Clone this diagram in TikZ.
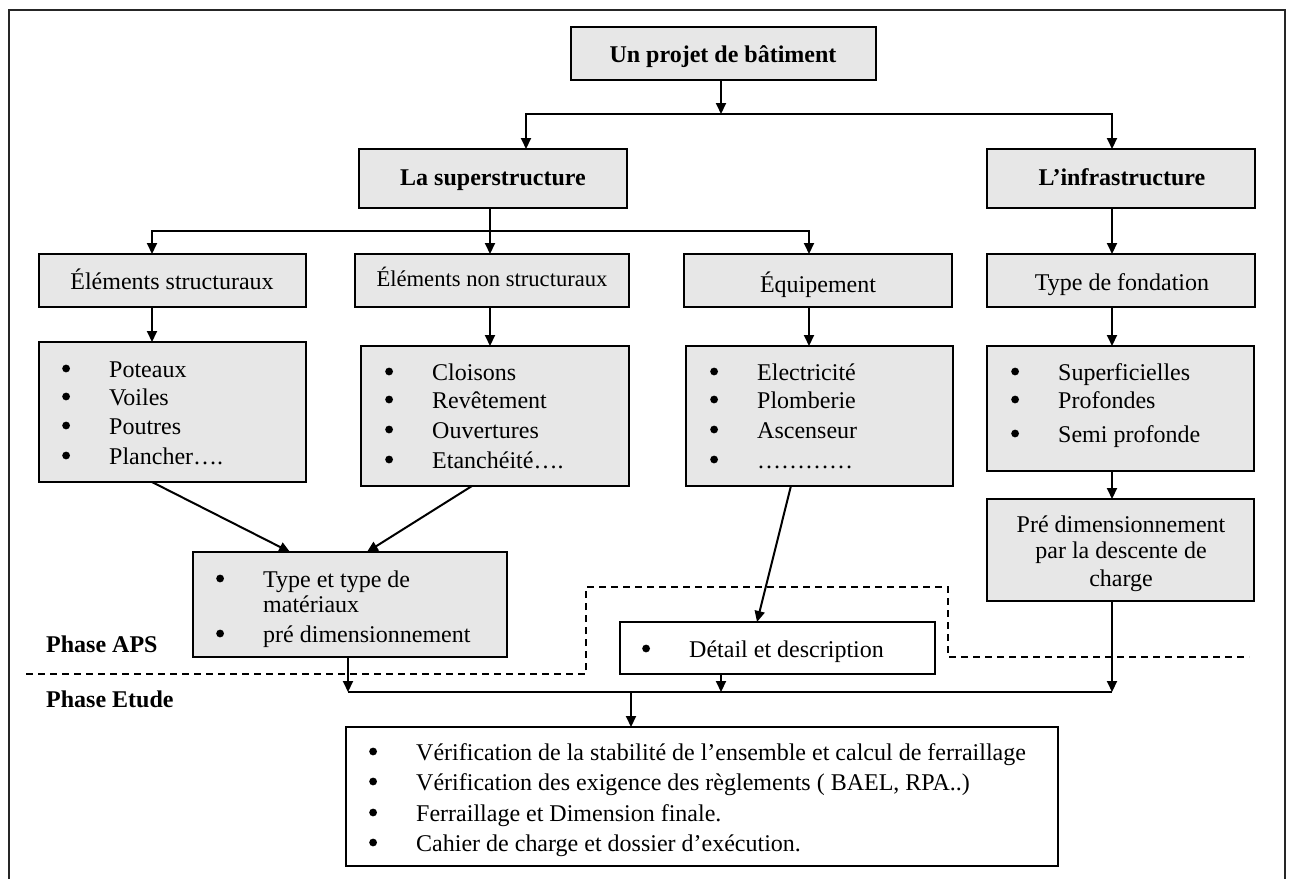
\documentclass[tikz,border=0pt]{standalone}
\usepackage{fontspec}
\setmainfont{Liberation Serif}
\usetikzlibrary{arrows.meta,fit,calc}
\definecolor{boxgray}{HTML}{E7E7E7}
% list bullet: a filled dot followed by a fixed indent
\newcommand{\blt}{\makebox[47pt][l]{\tikz[baseline=0pt,x=1pt,y=1pt]\fill[black] (4,8.5) circle (3.9);}}

\begin{document}
\begin{tikzpicture}[x=1pt,y=-1pt,
  ln/.style={line width=2pt, draw=black, line join=miter},
  arr/.style={ln, -{Triangle[length=11pt,width=10pt]}},
  dline/.style={line width=1.8pt, draw=black, dash pattern=on 7pt off 5pt},
  frame/.style={line width=2pt, draw=black!85},
  box/.style={draw=black, line width=2pt, fill=boxgray, inner sep=0pt, outer sep=0pt, rectangle},
  wbox/.style={box, fill=white},
  lbl/.style={inner sep=0pt, font=\fontsize{24}{30}\selectfont},
  blbl/.style={inner sep=0pt, font=\fontsize{24}{30}\selectfont\bfseries},
  ttl/.style={lbl, anchor=base},
  bttl/.style={blbl, anchor=base},
  item/.style={lbl, anchor=base west}
]
\useasboundingbox (0,0) rectangle (1290,878);

% outer frame (open at the bottom edge of the page)
\draw[frame] (9,890) -- (9,10) -- (1285,10) -- (1285,890);

% ---------- boxes ----------
\node[box, fit={(571,27) (876,80)}]   (A) {};
\node[box, fit={(359,149) (627,208)}] (B) {};
\node[box, fit={(987,149) (1255,208)}] (C) {};
\node[box, fit={(39,254) (306,307)}]  (D) {};
\node[box, fit={(355,254) (629,307)}] (E) {};
\node[box, fit={(684,254) (952,307)}] (F) {};
\node[box, fit={(987,254) (1255,307)}] (G) {};
\node[box, fit={(39,342) (306,482)}]  (H) {};
\node[box, fit={(361,346) (629,486)}] (I) {};
\node[box, fit={(686,346) (953,486)}] (J) {};
\node[box, fit={(987,346) (1254,471)}] (K) {};
\node[box, fit={(987,499) (1254,601)}] (L) {};
\node[box, fit={(193,552) (507,657)}] (M) {};
\node[wbox, fit={(620,622) (935,674)}] (N) {};
\node[wbox, fit={(346,727) (1058,866)}] (O) {};

% ---------- titles ----------
\node[bttl] (tA) at (723,62)  {Un projet de bâtiment};
\node[bttl] (tB) at (493,185) {La superstructure};
\node[bttl] (tC) at (1122,185) {L’infrastructure};
\node[ttl]  (tD) at (172,289) {Éléments structuraux};
\node[ttl, font=\fontsize{22.6}{30}\selectfont] (tE) at (492,286) {Éléments non structuraux};
\node[ttl]  (tF) at (818,292) {Équipement};
\node[ttl]  (tG) at (1122,290) {Type de fondation};

% ---------- lists ----------
\node[item] (h1) at (62,377) {\blt Poteaux};
\node[item] (h2) at (62,405) {\blt Voiles};
\node[item] (h3) at (62,434) {\blt Poutres};
\node[item] (h4) at (62,464) {\blt Plancher….};

\node[item] (i1) at (385,380) {\blt Cloisons};
\node[item] (i2) at (385,408) {\blt Revêtement};
\node[item] (i3) at (385,438) {\blt Ouvertures};
\node[item] (i4) at (385,468) {\blt Etanchéité….};

\node[item] (j1) at (710,380) {\blt Electricité};
\node[item] (j2) at (710,408) {\blt Plomberie};
\node[item] (j3) at (710,438) {\blt Ascenseur};
\node[item] (j4) at (710,468) {\blt …………};

\node[item] (k1) at (1011,380) {\blt Superficielles};
\node[item] (k2) at (1011,408) {\blt Profondes};
\node[item] (k3) at (1011,442) {\blt Semi profonde};

\node[ttl] (l1) at (1121,532) {Pré dimensionnement};
\node[ttl] (l2) at (1121,558) {par la descente de};
\node[ttl] (l3) at (1121,586) {charge};

\node[item] (m1) at (216,587) {\blt Type et type de};
\node[item] (m2) at (263,612) {matériaux};
\node[item] (m3) at (216,642) {\blt pré dimensionnement};

\node[item] (n1) at (642,657) {\blt Détail et description};

\node[item] (o1) at (369,760) {\blt Vérification de la stabilité de l’ensemble et calcul de ferraillage};
\node[item] (o2) at (369,790) {\blt Vérification des exigence des règlements ( BAEL, RPA..)};
\node[item] (o3) at (369,821) {\blt Ferraillage et Dimension finale.};
\node[item] (o4) at (369,851) {\blt Cahier de charge et dossier d’exécution.};

% ---------- phase labels ----------
\node[blbl, anchor=base west] (pa) at (46,652) {Phase APS};
\node[blbl, anchor=base west] (pe) at (46,707) {Phase Etude};

% ---------- phase boundary ----------
\draw[dline] (26,674) -- (586,674) -- (586,587) -- (948,587) -- (948,657) -- (1249,657);

% ---------- connectors ----------
\coordinate (aj) at (721,114);
\coordinate (aL) at (526,114);
\coordinate (aR) at (1112,114);
\draw[arr] (A.south -| aj) -- (aj);
\draw[arr] (aR) -- (aL) -- (aL |- B.north);
\draw[arr] (aL) -- (aR) -- (aR |- C.north);

\coordinate (bj) at (490,231);
\coordinate (bL) at (152,231);
\coordinate (bR) at (809,231);
\draw[ln] (B.south -| bj) -- (bj);
\draw[arr] (bR) -- (bL) -- (bL |- D.north);
\draw[arr] (bj) -- (bj |- E.north);
\draw[arr] (bL) -- (bR) -- (bR |- F.north);

\draw[arr] (C.south -| aR) -- (aR |- G.north);
\draw[arr] (D.south -| bL) -- (bL |- H.north);
\draw[arr] (E.south -| bj) -- (bj |- I.north);
\draw[arr] (F.south -| bR) -- (bR |- J.north);
\draw[arr] (G.south -| aR) -- (aR |- K.north);
\draw[arr] (K.south -| aR) -- (aR |- L.north);

\draw[arr] ($(H.south west)!0.423!(H.south east)$) -- ($(M.north west)!0.309!(M.north east)$);
\draw[arr] ($(I.south west)!0.414!(I.south east)$) -- ($(M.north west)!0.554!(M.north east)$);
\draw[arr] ($(J.south west)!0.393!(J.south east)$) -- ($(N.north west)!0.435!(N.north east)$);

\coordinate (cL) at (348,692);
\coordinate (cN) at (721,692);
\coordinate (cR) at (1112,692);
\coordinate (cM) at (631,692);
\draw[ln] (cL) -- (cR);
\draw[arr] (M.south -| cL) -- (cL);
\draw[arr] (N.south -| cN) -- (cN);
\draw[arr] (L.south -| cR) -- (cR);
\draw[arr] (cM) -- (cM |- O.north);
\end{tikzpicture}
\end{document}
